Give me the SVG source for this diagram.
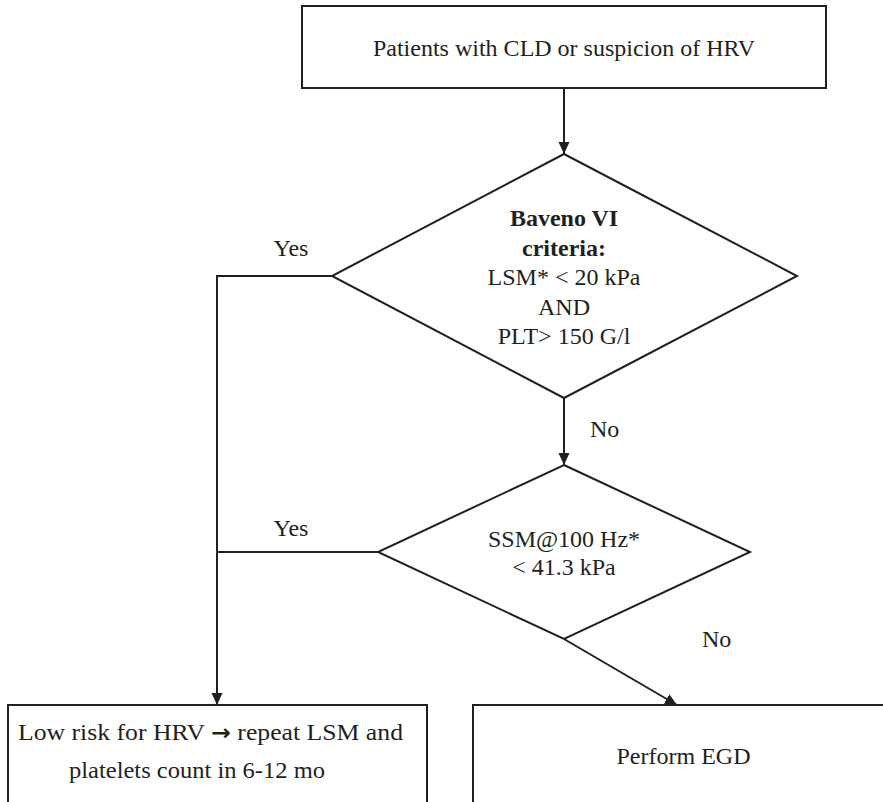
<svg xmlns="http://www.w3.org/2000/svg" width="883" height="802" viewBox="0 0 883 802">
<style>
.shape{fill:#fff;stroke:#231f20;stroke-width:2}
.conn{fill:none;stroke:#231f20;stroke-width:2}
text{font-family:'Liberation Serif','DejaVu Serif';font-size:24px;font-weight:400;fill:#231f20}
.c{text-anchor:middle}
.b{font-weight:700}
.arrowglyph{font-family:'DejaVu Sans';font-weight:700;font-size:22px}
</style>
<defs>
<marker id="arr" markerUnits="userSpaceOnUse" markerWidth="12" markerHeight="14" viewBox="0 0 12 14" refX="12" refY="7" orient="auto">
<path d="M0,1.5 L12,7 L0,12.5 Z" fill="#231f20"/>
</marker>
</defs>
<rect width="883" height="802" fill="#fff"/>
<g id="connectors">
<line class="conn" x1="564" y1="88" x2="564" y2="154" marker-end="url(#arr)"/>
<line class="conn" x1="564" y1="398" x2="564" y2="465" marker-end="url(#arr)"/>
<polyline class="conn" points="332,276 217,276 217,705" marker-end="url(#arr)"/>
<line class="conn" x1="378" y1="552" x2="217" y2="552"/>
<line class="conn" x1="564" y1="639" x2="677" y2="705" marker-end="url(#arr)"/>
<text x="291" y="256" class="c">Yes</text>
<text x="291" y="536" class="c">Yes</text>
<text x="590" y="437">No</text>
<text x="702" y="647">No</text>
</g>
<g id="start">
<rect class="shape" x="302" y="6" width="524" height="82"/>
<text x="564" y="56" class="c">Patients with CLD or suspicion of HRV</text>
</g>
<g id="baveno">
<polygon class="shape" points="564,154 797,276 564,398 332,276"/>
<text x="564" y="226" class="c b">Baveno VI</text>
<text x="564" y="255.5" class="c b">criteria:</text>
<text x="564" y="285" class="c">LSM* &lt; 20 kPa</text>
<text x="564" y="314.5" class="c">AND</text>
<text x="564" y="344" class="c">PLT&gt; 150 G/l</text>
</g>
<g id="ssm">
<polygon class="shape" points="564,465 750,552 564,639 378,552"/>
<text x="564" y="547" class="c">SSM@100 Hz*</text>
<text x="564" y="575" class="c">&lt; 41.3 kPa</text>
</g>
<g id="lowrisk">
<rect class="shape" x="8" y="705" width="419" height="110"/>
<text x="18" y="740" textLength="385" lengthAdjust="spacingAndGlyphs">Low risk for HRV <tspan class="arrowglyph">→</tspan> repeat LSM and</text>
<text x="69" y="778" textLength="256" lengthAdjust="spacingAndGlyphs">platelets count in 6-12 mo</text>
</g>
<g id="egd">
<rect class="shape" x="473" y="705" width="430" height="110"/>
<text x="683.5" y="764" class="c">Perform EGD</text>
</g>
</svg>
